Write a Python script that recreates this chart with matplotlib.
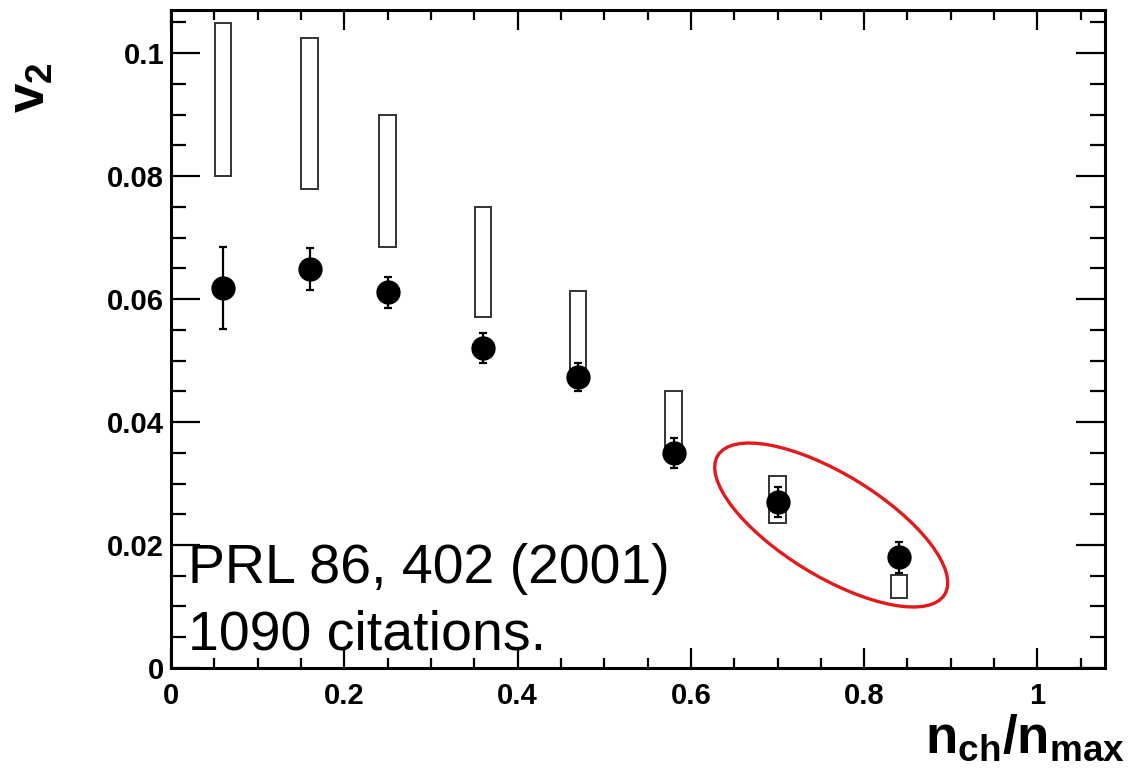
import matplotlib
matplotlib.use('Agg')
import matplotlib.pyplot as plt
import matplotlib.transforms as mtransforms
from matplotlib.patches import Ellipse
from matplotlib.ticker import MultipleLocator, FuncFormatter
import numpy as np

# v2 vs centrality, points with stat errors and systematic boxes
x = [0.06, 0.16, 0.25, 0.36, 0.47, 0.58, 0.70, 0.84]
v2 = [0.0618, 0.0649, 0.0611, 0.0520, 0.0473, 0.0350, 0.0270, 0.0180]
v2_err = [0.0066, 0.0034, 0.0025, 0.0024, 0.0023, 0.0024, 0.0025, 0.0025]
sys_lo = [0.0800, 0.0779, 0.0685, 0.0571, 0.0475, 0.0355, 0.0236, 0.0114]
sys_hi = [0.1049, 0.1024, 0.0899, 0.0750, 0.0613, 0.0450, 0.0312, 0.0151]

note_lines = ['PRL 86, 402 (2001)', '1090 citations.']

plt.rcParams['font.family'] = ['Liberation Sans', 'DejaVu Sans']
plt.rcParams['mathtext.fontset'] = 'custom'
plt.rcParams['mathtext.rm'] = 'Liberation Sans'
plt.rcParams['mathtext.bf'] = 'Liberation Sans:bold'
plt.rcParams['mathtext.it'] = 'Liberation Sans:italic'

fig = plt.figure(figsize=(11.3, 7.82), dpi=100)
ax = fig.add_axes([0.1513, 0.1458, 0.8266, 0.8414])

# systematic boxes
lo = np.array(sys_lo)
hi = np.array(sys_hi)
ax.bar(x, hi - lo, bottom=lo, width=0.019, fill=False,
       edgecolor='#333333', linewidth=1.4, zorder=2)

ax.errorbar(x, v2, yerr=v2_err, fmt='o', color='black', markersize=16.5,
            elinewidth=1.6, capsize=3.2, capthick=1.6, zorder=3)

ax.set_xlim(0, 1.078)
ax.set_ylim(0, 0.107)

ax.xaxis.set_major_locator(MultipleLocator(0.2))
ax.xaxis.set_minor_locator(MultipleLocator(0.05))
ax.yaxis.set_major_locator(MultipleLocator(0.02))
ax.yaxis.set_minor_locator(MultipleLocator(0.005))
fmt = FuncFormatter(lambda v, p: f'{v:.10g}' if abs(v) > 1e-12 else '0')
ax.xaxis.set_major_formatter(fmt)
ax.yaxis.set_major_formatter(fmt)

for s in ax.spines.values():
  s.set_linewidth(2.2)

ax.tick_params(axis='both', which='both', direction='in', top=True, right=True,
               width=1.6)
ax.tick_params(axis='y', which='major', length=21, pad=5)
ax.tick_params(axis='y', which='minor', length=11)
ax.tick_params(axis='x', which='major', length=14.5, pad=10)
ax.tick_params(axis='x', which='minor', length=7.5)
for lab in ax.get_xticklabels() + ax.get_yticklabels():
  lab.set_fontsize(21)
  lab.set_fontweight('bold')

ax.set_xlabel(r'$\mathbf{n_{ch}/n_{max}}$', fontsize=38, ha='right', va='baseline')
ax.xaxis.set_label_coords(1.0214, -0.129)

ax.text(-0.1349, 0.921, r'$\mathbf{v_2}$', fontsize=38, rotation=90,
        rotation_mode='anchor', ha='right', va='baseline', transform=ax.transAxes)

ax.text(0.0196, 0.01382, note_lines[0], fontsize=40, va='baseline', ha='left')
ax.text(0.0196, 0.00293, note_lines[1], fontsize=40, va='baseline', ha='left')

# red ellipse around the last two points
trans = fig.dpi_scale_trans + mtransforms.ScaledTranslation(0.762, 0.02325, ax.transData)
ax.add_patch(Ellipse((0, 0), 2.66, 1.02, angle=-31.5, fill=False,
                     edgecolor='#e31a1c', linewidth=2.4, transform=trans,
                     clip_on=False, zorder=4))

fig.savefig('out.png', dpi=100)
